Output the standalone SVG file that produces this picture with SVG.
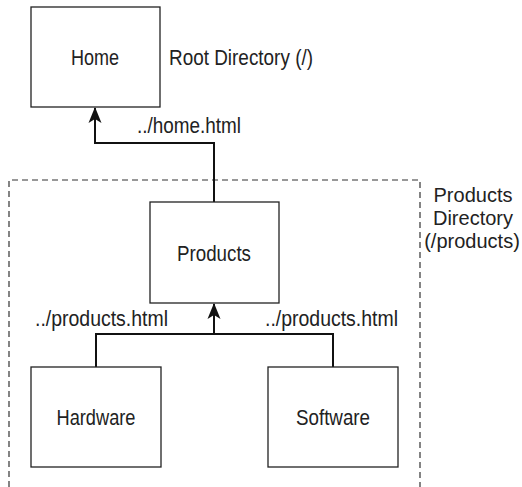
<svg xmlns="http://www.w3.org/2000/svg" width="522" height="487" viewBox="0 0 522 487">
<style>
.box{fill:#fff;stroke:#222;stroke-width:1.3}
.t{font-family:"Liberation Sans",Arial,sans-serif;font-size:22px;fill:#222}
.s{font-size:20px}
.c{text-anchor:middle}
.conn{fill:none;stroke:#111;stroke-width:2}
.dash{fill:none;stroke:#333;stroke-width:1.2;stroke-dasharray:6,4}
</style>
<defs>
<marker id="ah" markerUnits="userSpaceOnUse" markerWidth="16" markerHeight="16" refX="15" refY="8" orient="auto" viewBox="0 0 16 16">
<path d="M0,1.5 L16,8 L0,14.5 L4,8 Z" fill="#111"/>
</marker>
</defs>
<g id="products-dir">
<path class="dash" d="M9,487 V180 H420 V487"/>
<text class="t s c" x="473" y="202">Products</text>
<text class="t s c" x="473" y="225">Directory</text>
<text class="t s c" x="472" y="248">(/products)</text>
</g>
<g id="connectors">
<path class="conn" d="M214,202 V143 H95 V108" marker-end="url(#ah)"/>
<path class="conn" d="M96,367 V334 H333 V367"/>
<path class="conn" d="M214,334 V304" marker-end="url(#ah)"/>
<text class="t" x="137" y="133" textLength="104" lengthAdjust="spacingAndGlyphs">../home.html</text>
<text class="t" x="35" y="326" textLength="133" lengthAdjust="spacingAndGlyphs">../products.html</text>
<text class="t" x="265" y="326" textLength="133" lengthAdjust="spacingAndGlyphs">../products.html</text>
</g>
<g id="home">
<rect class="box" x="31" y="7" width="129" height="100"/>
<text class="t c" x="95" y="65" textLength="48" lengthAdjust="spacingAndGlyphs">Home</text>
<text class="t" x="169" y="65" textLength="144" lengthAdjust="spacingAndGlyphs">Root Directory (/)</text>
</g>
<g id="products">
<rect class="box" x="150" y="202" width="129" height="101"/>
<text class="t c" x="214" y="261" textLength="74" lengthAdjust="spacingAndGlyphs">Products</text>
</g>
<g id="hardware">
<rect class="box" x="31" y="367" width="130" height="100"/>
<text class="t c" x="96" y="425" textLength="79" lengthAdjust="spacingAndGlyphs">Hardware</text>
</g>
<g id="software">
<rect class="box" x="268" y="367" width="130" height="100"/>
<text class="t c" x="333" y="425" textLength="74" lengthAdjust="spacingAndGlyphs">Software</text>
</g>
</svg>
